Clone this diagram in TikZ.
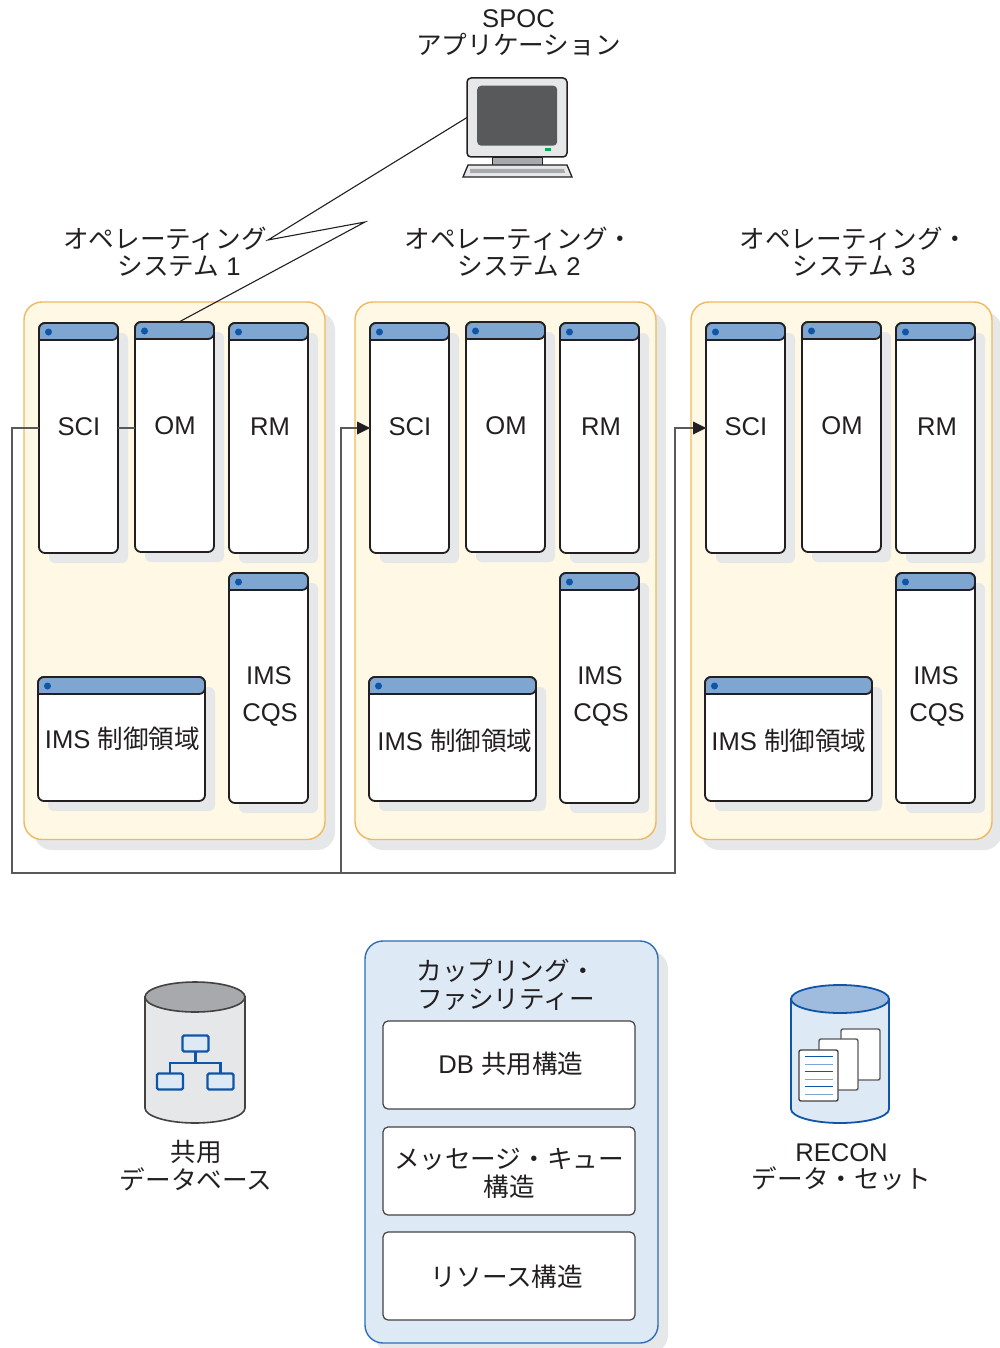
\documentclass[tikz,border=0pt]{standalone}
\usepackage{fontspec}
\setmainfont{Liberation Sans}
\newfontfamily\cjk{Noto Sans CJK JP}
\usetikzlibrary{arrows.meta,shapes.geometric}
\definecolor{shadowc}{HTML}{E6E7E8}
\definecolor{inkc}{HTML}{231F20}
\definecolor{wirec}{HTML}{58595B}
\definecolor{cream}{HTML}{FEF8E5}
\definecolor{amber}{HTML}{F2B85C}
\definecolor{titlec}{HTML}{7FA5D1}
\definecolor{dotc}{HTML}{0F55A8}
\definecolor{paleblue}{HTML}{DDE9F4}
\definecolor{edgeblue}{HTML}{2F6DB5}
\definecolor{midgrey}{HTML}{A7A9AC}
\definecolor{ledc}{HTML}{00B050}
\tikzset{
  txt/.style={font=\fontsize{25.6}{27.5}\selectfont,text=inkc,align=center,inner sep=0pt},
  winbody/.style={draw=inkc,fill=white,line width=1.8pt,rounded corners=6pt,anchor=north west,inner sep=0pt,outer sep=0pt},
  wire/.style={draw=wirec,line width=1.2pt},
  bolt/.style={draw=inkc,line width=1.1pt},
  tray/.style={rounded corners=18pt,anchor=north west,inner sep=0pt,outer sep=0pt,line width=1.4pt},
  slab/.style={draw=inkc!85,fill=white,line width=1.2pt,rounded corners=5pt,anchor=north west,inner sep=0pt,outer sep=0pt},
  sheet/.style={draw=wirec,fill=white,line width=1.4pt,rounded corners=2pt,anchor=north west,inner sep=0pt,outer sep=0pt},
  tree/.style={draw=dotc,fill=paleblue,line width=2.2pt,rounded corners=1.5pt,anchor=north west,inner sep=0pt,outer sep=0pt,minimum width=26pt,minimum height=16pt},
}
% name, x, y, w, h
\newcommand{\winbox}[5]{%
  \fill[shadowc,rounded corners=6pt] ({#2+10},{#3+10}) rectangle ({#2+#4+10},{#3+#5+10});
  \node[winbody,minimum width=#4pt,minimum height=#5pt] (#1) at ({#2},{#3}) {};
  \draw[draw=inkc,fill=titlec,line width=1.8pt,rounded corners=6pt] ({#2},{#3+17}) -- ({#2},{#3}) -- ({#2+#4},{#3}) -- ({#2+#4},{#3+17}) [sharp corners] -- cycle;
  \fill[dotc] ({#2+9.5},{#3+9}) circle (3.5pt);
}
% n, dx, ctrl label x, ctrl label y
\newcommand{\osgroup}[4]{%
  \fill[shadowc,rounded corners=18pt] ({24+#2+10},312) rectangle ({325+#2+10},850);
  \node[tray,draw=amber,fill=cream,minimum width=301pt,minimum height=537.5pt] (os#1) at ({24+#2},302) {};
  \winbox{sci#1}{39+#2}{323}{79}{230}
  \winbox{om#1}{135+#2}{322}{79}{230}
  \winbox{rm#1}{229+#2}{323}{79}{230}
  \winbox{cqs#1}{229+#2}{573}{79}{230}
  \winbox{ctl#1}{38+#2}{677}{167}{124}
  \node[txt] (scit#1) at ({79+#2},426.5) {SCI};
  \node[txt] (omt#1) at ({175+#2},425.5) {OM};
  \node[txt] (rmt#1) at ({270+#2},426.5) {RM};
  \node[txt] (imst#1) at ({269+#2},675.5) {IMS};
  \node[txt] (cqst#1) at ({270+#2},714.5) {CQS};
  \node[txt] (ctlt#1) at (#3,#4) {IMS {\cjk 制御領域}};
  \coordinate (port#1) at ({39+#2},428);
}
\begin{document}
\begin{tikzpicture}[x=1pt,y=-1pt]
\useasboundingbox (0,0) rectangle (1000,1348);
% SPOC
\node[txt] (spoc) at (518.5,33) {SPOC\\{\cjk アプリケーション}};
\node[draw=inkc,fill=shadowc,line width=1.5pt,rounded corners=4pt,anchor=north west,inner sep=0pt,outer sep=0pt,minimum width=100pt,minimum height=79pt] (monitor) at (467,78) {};
\node[fill=wirec,rounded corners=4pt,anchor=north west,inner sep=0pt,minimum width=80pt,minimum height=60pt] (screen) at (477,85.5) {};
\node[fill=ledc,anchor=north west,inner sep=0pt,minimum width=6pt,minimum height=3pt] (led) at (545,148) {};
\node[draw=inkc,fill=midgrey,line width=1.3pt,anchor=north west,inner sep=0pt,minimum width=50pt,minimum height=8pt] (stand) at (492,157) {};
\filldraw[draw=inkc,fill=shadowc,line width=1.3pt] (468,165) -- (567,165) -- (572,177) -- (463,177) -- cycle;
\fill[midgrey] (470,169) -- (564,169) -- (565,173) -- (470,173) -- cycle;
% OS titles
\node[txt] (ostitle1) at (165,252) {{\cjk オペレーティング}\\\hspace*{28pt}{\cjk システム} 1};
\node[txt] (ostitle2) at (519,252) {{\cjk オペレーティング・}\\{\cjk システム} 2};
\node[txt] (ostitle3) at (854,252) {{\cjk オペレーティング・}\\{\cjk システム} 3};
% Groups
\osgroup{1}{0}{122.5}{739}
\osgroup{2}{331}{455}{741}
\osgroup{3}{667}{789}{741}
% Bolt
\coordinate (boltA) at (268,240);
\coordinate (boltB) at (365,222);
\draw[bolt,line join=miter] (monitor.west) -- (boltA) -- (boltB) -- (om1.north -| 179,0);
% Connectors
\coordinate (c1a) at (12,428);
\coordinate (c1b) at (12,873);
\coordinate (c2a) at (341,873);
\coordinate (c2b) at (341,428);
\coordinate (c3a) at (675,873);
\coordinate (c3b) at (675,428);
\draw[wire] (port1) -- (c1a) -- (c1b) -- (c3a) -- (c3b) -- (port3);
\draw[wire] (c2a) -- (c2b) -- (port2);
\fill[inkc] (port2) -- ++(-13,-6.5) -- ++(0,13) -- cycle;
\fill[inkc] (port3) -- ++(-13,-6.5) -- ++(0,13) -- cycle;
\draw[wire] (sci1.east |- 0,428) -- (om1.west |- 0,428);
% Coupling facility
\fill[shadowc,rounded corners=18pt] (375,951) rectangle (668,1353);
\node[tray,draw=edgeblue,fill=paleblue,minimum width=293pt,minimum height=402pt] (cf) at (365,941) {};
\node[txt] (cft) at (506,984.5) {{\cjk カップリング・}\\{\cjk ファシリティー}};
\node[slab,minimum width=252pt,minimum height=88pt] (s1) at (383,1021) {};
\node[slab,minimum width=252pt,minimum height=88pt] (s2) at (383,1127) {};
\node[slab,minimum width=252pt,minimum height=88pt] (s3) at (383,1232) {};
\node[txt] (s1t) at (511,1063.5) {DB {\cjk 共用構造}};
\node[txt] (s2t) at (509,1173.5) {{\cjk メッセージ・キュー}\\{\cjk 構造}};
\node[txt] (s3t) at (507,1276.5) {\cjk リソース構造};
% Shared DB cylinder
\filldraw[draw=inkc!85,fill=shadowc,line width=1.6pt] (145,997) -- (145,1108) arc[start angle=180,end angle=360,x radius=50,y radius=-15] -- (245,997) -- cycle;
\filldraw[draw=inkc!85,fill=midgrey,line width=1.6pt] (195,997) ellipse[x radius=50,y radius=15];
\node[tree] (t1) at (182.5,1035.5) {};
\node[tree] (t2) at (157,1073.5) {};
\node[tree] (t3) at (207.5,1073.5) {};
\draw[draw=dotc,line width=2.2pt] (t1.south) -- (195.5,1063);
\draw[draw=dotc,line width=2.2pt] (t2.north) -- (170,1063) -- (220.5,1063) -- (t3.north);
\node[txt] (dbt) at (196,1165.5) {{\cjk 共用}\\{\cjk データベース}};
% RECON cylinder
\filldraw[draw=dotc,fill=paleblue,line width=1.8pt] (791,999) -- (791,1109) arc[start angle=180,end angle=360,x radius=49,y radius=-14] -- (889,999) -- cycle;
\filldraw[draw=dotc,fill=titlec!75,line width=1.8pt] (840,999) ellipse[x radius=49,y radius=14];
\node[sheet,minimum width=39pt,minimum height=51pt] (p1) at (841,1029) {};
\node[sheet,minimum width=39pt,minimum height=51pt] (p2) at (819,1039) {};
\node[sheet,draw=inkc!85,minimum width=39pt,minimum height=51pt] (p3) at (799,1050) {};
\foreach \ly/\lc in {1056.5/dotc,1064/titlec,1071.5/dotc,1079/titlec,1086.5/dotc,1094/titlec}
  \draw[draw=\lc,line width=1pt] (805,\ly) -- (833,\ly);
\node[txt] (rect) at (841.5,1167) {RECON\\{\cjk データ・セット}};
\end{tikzpicture}
\end{document}
